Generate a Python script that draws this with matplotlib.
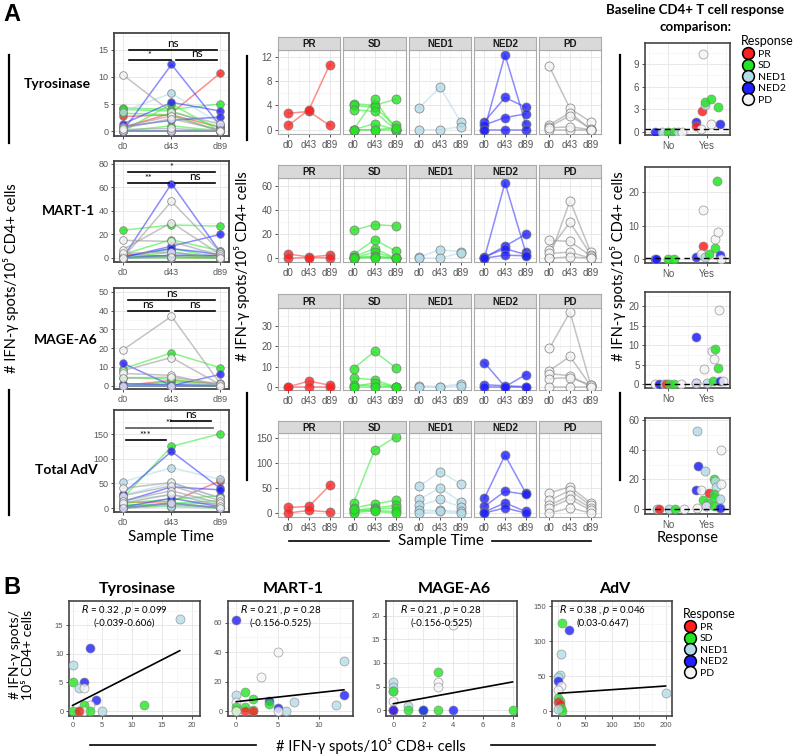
import matplotlib.pyplot as plt
from matplotlib.lines import Line2D
from matplotlib.ticker import MultipleLocator

plt.rcParams['font.family'] = ['Liberation Sans', 'DejaVu Sans']
LATO = ['Lato', 'DejaVu Sans']

times = ['d0', 'd43', 'd89']
groups = ['PR', 'SD', 'NED1', 'NED2', 'PD']
antigens = ['Tyrosinase', 'MART-1', 'MAGE-A6', 'Total AdV']

# one list per patient: spots at d0, d43, d89
tyr_tc = {
    'PR': [[2.7, 3.0, 0.7], [0.7, 3.3, 10.7]],
    'SD': [[4.3, 4.0, 5.0], [4.0, 3.7, 0.7], [3.3, 3.0, 0.0], [0.0, 5.0, 0.0],
           [0.0, 1.0, 0.0], [0.0, 0.0, 0.0], [0.0, 0.0, 0.3]],
    'NED1': [[3.6, 7.0, 1.3], [0.0, 0.0, 0.5]],
    'NED2': [[0.0, 12.3, 1.0], [1.3, 5.3, 3.7], [0.8, 2.0, 2.6], [0.0, 0.0, 0.0]],
    'PD': [[10.4, 3.5, 1.3], [0.8, 2.8, 0.0], [0.5, 2.3, 0.2], [0.0, 0.0, 0.0], [0.3, 0.5, 0.0]],
}
mart_tc = {
    'PR': [[3.5, 1.0, 2.5], [0.0, 0.5, 0.3]],
    'SD': [[23.5, 28.0, 27.0], [3.0, 15.5, 6.0], [1.0, 8.0, 0.0], [0.0, 5.0, 0.0],
           [0.0, 2.0, 0.0], [0.5, 1.0, 0.0], [0.0, 0.0, 0.0]],
    'NED1': [[1.0, 7.0, 5.5], [0.0, 0.0, 4.5]],
    'NED2': [[0.0, 63.0, 5.0], [0.5, 10.0, 20.0], [1.0, 8.0, 3.0], [0.0, 2.5, 2.0]],
    'PD': [[0.0, 48.0, 5.0], [7.0, 30.0, 3.0], [15.0, 14.0, 2.0], [4.0, 5.0, 0.0], [0.0, 1.0, 0.0]],
}
mage_tc = {
    'PR': [[0.0, 2.8, 0.8], [0.0, 0.0, 0.0]],
    'SD': [[9.0, 17.5, 9.5], [4.3, 3.5, 0.0], [1.0, 0.5, 0.0], [0.0, 2.0, 0.0], [0.0, 0.0, 0.0]],
    'NED1': [[0.5, 0.0, 1.5], [0.0, 0.0, 0.5]],
    'NED2': [[12.0, 0.0, 6.0], [1.0, 0.5, 0.0], [0.0, 0.0, 0.0]],
    'PD': [[19.0, 37.0, 1.0], [8.0, 15.0, 0.5], [6.5, 5.5, 0.0], [4.0, 4.5, 1.0], [0.0, 0.0, 0.0]],
}
adv_tc = {
    'PR': [[11.0, 13.0, 55.0], [0.0, 5.0, 2.0]],
    'SD': [[20.0, 125.0, 151.0], [10.0, 18.0, 25.0], [5.0, 10.0, 15.0], [2.0, 8.0, 10.0],
           [0.0, 5.0, 3.0], [7.0, 3.0, 0.0]],
    'NED1': [[53.0, 82.0, 58.0], [27.0, 50.0, 22.0], [15.0, 27.0, 12.0], [5.0, 5.0, 3.0], [0.0, 3.0, 0.0]],
    'NED2': [[29.0, 115.0, 40.0], [13.0, 43.0, 37.0], [2.0, 20.0, 3.0], [0.0, 10.0, 0.0]],
    'PD': [[40.0, 52.0, 20.0], [25.0, 45.0, 15.0], [15.0, 35.0, 10.0], [10.0, 28.0, 5.0], [0.0, 10.0, 0.0]],
}

# significance brackets: (x start, x end, y, label)
tyr_sig = [(0.12, 1.94, 15.0, 'ns'), (0.12, 0.98, 13.1, '*'), (1.1, 1.94, 13.1, 'ns')]
mart_sig = [(0.1, 1.9, 72.8, '*'), (0.1, 0.94, 63.9, '**'), (1.08, 1.9, 63.9, 'ns')]
mage_sig = [(0.1, 1.9, 45.7, 'ns'), (0.1, 0.94, 40.0, 'ns'), (1.08, 1.9, 40.0, 'ns')]
adv_sig = [(1.0, 1.81, 176.5, 'ns'), (0.06, 1.86, 163.0, '**'), (0.06, 0.88, 138.0, '***')]

# baseline response: (response, jitter, spots, group)
tyr_base = [('No', -0.35, 0, 'NED2'), ('No', -0.15, 0, 'NED1'), ('No', 0.0, 0, 'SD'),
            ('No', 0.15, 0, 'SD'), ('No', 0.25, 0, 'NED1'), ('No', 0.35, 0, 'PD'),
            ('Yes', -0.28, 1.3, 'NED2'), ('Yes', -0.27, 0.7, 'PR'), ('Yes', -0.12, 2.7, 'PR'),
            ('Yes', -0.05, 3.6, 'NED1'), ('Yes', -0.05, 4.0, 'SD'), ('Yes', 0.12, 4.3, 'SD'),
            ('Yes', 0.28, 3.3, 'SD'), ('Yes', -0.1, 10.4, 'PD'), ('Yes', -0.15, 0.3, 'PD'),
            ('Yes', 0.12, 1.0, 'PD'), ('Yes', 0.33, 1.0, 'NED2')]
mart_base = [('No', -0.35, 0, 'NED2'), ('No', -0.32, 0, 'NED2'), ('No', 0.0, 0, 'SD'),
             ('No', 0.15, 0, 'SD'),
             ('Yes', -0.28, 0.5, 'NED2'), ('Yes', -0.1, 14.7, 'PD'), ('Yes', -0.1, 3.8, 'PR'),
             ('Yes', -0.15, 1.5, 'PD'), ('Yes', -0.05, 0.5, 'NED1'), ('Yes', 0.05, 1.3, 'SD'),
             ('Yes', 0.2, 3.3, 'SD'), ('Yes', 0.27, 23.5, 'SD'), ('Yes', 0.2, 6.0, 'PD'),
             ('Yes', 0.3, 8.0, 'PD'), ('Yes', 0.33, 1.0, 'NED2'), ('Yes', 0.36, 0.0, 'PD')]
mage_base = [('No', -0.33, 0, 'PD'), ('No', -0.25, 0, 'NED2'), ('No', -0.12, 0, 'NED1'),
             ('No', -0.05, 0, 'PR'), ('No', 0.03, 0, 'SD'), ('No', 0.15, 0, 'SD'), ('No', 0.33, 0, 'PD'),
             ('Yes', -0.28, 12.2, 'NED2'), ('Yes', -0.28, 0.5, 'NED2'), ('Yes', -0.28, 0.5, 'PD'),
             ('Yes', -0.08, 4.0, 'PD'), ('Yes', 0.0, 0.5, 'NED1'), ('Yes', 0.13, 8.5, 'PD'),
             ('Yes', 0.18, 6.5, 'PD'), ('Yes', 0.22, 9.0, 'SD'), ('Yes', 0.28, 4.2, 'SD'),
             ('Yes', 0.15, 1.0, 'SD'), ('Yes', 0.35, 1.0, 'NED2'), ('Yes', 0.32, 19.0, 'PD'),
             ('Yes', 0.41, 1.0, 'PD')]
adv_base = [('No', -0.3, 0, 'NED1'), ('No', -0.23, 0, 'PR'), ('No', 0.03, 0, 'NED1'),
            ('No', 0.18, 0, 'SD'), ('No', 0.4, 0, 'PD'),
            ('Yes', -0.26, 52.5, 'NED1'), ('Yes', -0.23, 29.0, 'NED2'), ('Yes', -0.05, 26.0, 'NED1'),
            ('Yes', -0.28, 13.0, 'NED2'), ('Yes', -0.15, 13.0, 'PD'), ('Yes', 0.06, 11.0, 'PR'),
            ('Yes', -0.1, 6.0, 'SD'), ('Yes', 0.03, 4.0, 'SD'), ('Yes', -0.01, 2.0, 'NED2'),
            ('Yes', -0.01, 2.0, 'PD'), ('Yes', -0.26, 1.0, 'PD'), ('Yes', 0.19, 20.0, 'SD'),
            ('Yes', 0.2, 19.0, 'NED1'), ('Yes', 0.25, 15.0, 'NED1'), ('Yes', 0.19, 10.0, 'SD'),
            ('Yes', 0.19, 7.5, 'SD'), ('Yes', 0.19, 2.0, 'SD'), ('Yes', 0.33, 7.0, 'NED1'),
            ('Yes', 0.37, 17.0, 'PD'), ('Yes', 0.37, 40.0, 'PD'), ('Yes', 0.33, 1.0, 'NED2')]
base_cut = [0.3, 0.2, 0.1, 0.4]

# panel B: CD8 vs CD4 spots
tyr_cd8 = [18, 3, 0, 0, 2, 1, 2, 4, 3, 2, 12, 0, 1, 2, 3, 5, 1]
tyr_cd4 = [16, 11, 8, 5, 5, 4, 4, 2, 1, 1, 1, 0, 0, 0, 0, 0, 0]
tyr_grp = ['NED1', 'NED2', 'NED1', 'SD', 'NED2', 'NED1', 'PD', 'NED2', 'PD', 'SD', 'SD',
           'SD', 'SD', 'PD', 'SD', 'NED1', 'PR']
mart_cd8 = [0, 5, 13, 3, 1, 0, 13, 2, 4, 7, 0, 4, 12, 0, 1, 5, 0, 2, 1, 2, 6, 5, 0]
mart_cd4 = [62, 40, 34, 23, 13, 11, 11, 8, 7, 6, 6, 5, 4, 3, 3, 2, 1, 1, 0, 0, 0, 0, 0]
mart_grp = ['NED2', 'PD', 'NED1', 'PD', 'SD', 'NED1', 'NED2', 'SD', 'NED2', 'NED1', 'PD', 'SD',
            'NED1', 'SD', 'SD', 'NED2', 'SD', 'SD', 'PR', 'PR', 'NED1', 'PD', 'PD']
mage_cd8 = [4, 3, 3, 3, 0, 0, 0, 0, 0, 1, 0, 0, 1, 2, 2, 3, 4, 8]
mage_cd4 = [18, 8, 6, 5, 6, 5, 4, 4, 2, 1, 0, 0, 0, 0, 0, 0, 0, 0]
mage_grp = ['PD', 'SD', 'PD', 'PD', 'NED1', 'NED1', 'NED1', 'SD', 'PD', 'NED1', 'PR', 'NED2',
            'SD', 'SD', 'NED2', 'SD', 'NED2', 'SD']
adv_cd8 = [6, 20, 4, 2, 0, 0, 4, 0, 0, 2, 0, 2, 200, 4, 6, 0]
adv_cd4 = [126, 116, 82, 52, 49, 43, 36, 30, 19, 15, 13, 10, 26, 5, 0, 3]
adv_grp = ['SD', 'NED2', 'NED1', 'NED1', 'NED1', 'NED2', 'PD', 'PD', 'SD', 'SD', 'PR', 'PR',
           'NED1', 'SD', 'SD', 'NED1']
# fitted line (intercept, slope) and stats text
b_fit = [(1.0, 0.53), (6.4, 0.62), (1.4, 0.575), (25.6, 0.052)]
b_stats = [('0.32', '0.099', '(-0.039-0.606)'), ('0.21', '0.28', '(-0.156-0.525)'),
           ('0.21', '0.28', '(-0.156-0.525)'), ('0.38', '0.046', '(0.03-0.647)')]
b_titles = ['Tyrosinase', 'MART-1', 'MAGE-A6', 'AdV']

fill = {'PR': '#ff1f1f', 'SD': '#22e622', 'NED1': '#b4dbe8', 'NED2': '#1f1fff', 'PD': '#f4f4f4'}
linec = {'PR': '#ff4040', 'SD': '#3ded3d', 'NED1': '#b4dbe8', 'NED2': '#4040ff', 'PD': '#9c9c9c'}

W, H = 798, 755
fig = plt.figure(figsize=(W / 100, H / 100), dpi=100)


def box(x0, y0, x1, y1):
    return fig.add_axes([x0 / W, 1 - y1 / H, (x1 - x0) / W, (y1 - y0) / H])


def ftext(x, y, s, **kw):
    fig.text(x / W, 1 - y / H, s, **kw)


def fline(x0, y0, x1, y1, lw=1.6):
    fig.add_artist(Line2D([x0 / W, x1 / W], [1 - y0 / H, 1 - y1 / H], color='black', lw=lw))


def gg(ax, ystep, edge='#333333', elw=1.0, fs=7):
    for s in ax.spines.values():
        s.set_color(edge)
        s.set_linewidth(elw)
    ax.yaxis.set_major_locator(MultipleLocator(ystep))
    ax.yaxis.set_minor_locator(MultipleLocator(ystep / 2))
    ax.grid(True, which='major', color='#e4e4e4', lw=0.6)
    ax.grid(True, which='minor', color='#f2f2f2', lw=0.4)
    ax.set_axisbelow(True)
    ax.tick_params(which='major', length=2.5, width=0.6, color='#333333',
                   labelsize=fs, labelcolor='#555555', pad=1.5)
    ax.tick_params(which='minor', length=0)


def traj(ax, vals, g, ms):
    ax.plot([0, 1, 2], vals, color=linec[g], lw=1.1, alpha=0.6, zorder=2)
    ax.plot([0, 1, 2], vals, 'o', ms=ms, mfc=fill[g], mec='#777777', mew=0.6, alpha=0.8, zorder=3)


def legend_at(x, y):
    handles = [Line2D([], [], ls='none', marker='o', ms=8.5, mfc=fill[g], mec='black', mew=1.1)
               for g in groups]
    leg = fig.legend(handles, groups, title='Response', loc='upper left',
                     bbox_to_anchor=(x / W, 1 - y / H), frameon=False, handlelength=1.3,
                     handletextpad=0.3, labelspacing=0.22, borderpad=0, borderaxespad=0,
                     title_fontsize=9, prop={'family': LATO, 'size': 7.5})
    leg.get_title().set_family(LATO)
    leg._legend_box.align = 'left'


tc_data = [tyr_tc, mart_tc, mage_tc, adv_tc]
sig_data = [tyr_sig, mart_sig, mage_sig, adv_sig]
base_data = [tyr_base, mart_base, mage_base, adv_base]

# ---- A: left combined panels
left_rows = [(33, 136), (161, 262), (288, 389), (410, 512)]
left_ylim = [(-0.9, 18.1), (-3.4, 82.2), (-1.8, 52.1), (-8, 199)]
left_step = [5, 20, 10, 50]
label_pos = [(57, 84), (68, 211), (66, 340), (66, 470)]
for i in range(4):
    ax = box(114, left_rows[i][0], 229, left_rows[i][1])
    gg(ax, left_step[i], edge='#444444', elw=1.3, fs=6.5)
    for g in groups:
        for tr in tc_data[i][g]:
            traj(ax, tr, g, 5.5)
    rng = left_ylim[i][1] - left_ylim[i][0]
    for x0, x1, y, lab in sig_data[i]:
        col = '#555555' if lab == '**' and i == 3 else 'black'
        ax.plot([x0, x1], [y, y], color=col, lw=1.2, zorder=4)
        if lab == 'ns':
            ax.text((x0 + x1) / 2, y + 0.01 * rng, lab, ha='center', va='bottom',
                    fontsize=8.5, family=LATO)
        else:
            ax.text((x0 + x1) / 2, y + 0.045 * rng, lab, ha='center', va='center',
                    fontsize=6.5, family=LATO)
    ax.set_xlim(-0.18, 2.18)
    ax.set_ylim(*left_ylim[i])
    ax.set_xticks([0, 1, 2], times)
    ax.xaxis.set_minor_locator(MultipleLocator(0.5))
    ftext(label_pos[i][0], label_pos[i][1], antigens[i], ha='center', va='center',
          fontsize=10, fontweight='bold', family=LATO)

# ---- A: faceted panels
mid_cols = [(278, 340), (343, 406), (409, 471), (474, 536), (539, 601)]
mid_rows = [(37, 50, 134), (165, 178, 262), (294, 308, 390), (421, 433, 517)]
mid_ylim = [(-0.7, 13.1), (-3.2, 67), (-1.6, 39), (-8, 159)]
mid_step = [4, 20, 10, 50]
for i in range(4):
    st, top, bot = mid_rows[i]
    for j, g in enumerate(groups):
        x0, x1 = mid_cols[j]
        ax = box(x0, top, x1, bot)
        gg(ax, mid_step[i], edge='#aaaaaa', elw=0.8, fs=7)
        for tr in tc_data[i][g]:
            traj(ax, tr, g, 6.5)
        ax.set_xlim(-0.5, 2.5)
        ax.set_ylim(*mid_ylim[i])
        ax.set_xticks([0, 1, 2], times)
        ax.xaxis.set_minor_locator(MultipleLocator(0.5))
        if j > 0:
            ax.tick_params(axis='y', left=False, labelleft=False)
        sx = box(x0, st, x1, top)
        sx.set_facecolor('#d9d9d9')
        sx.set_xticks([])
        sx.set_yticks([])
        for s in sx.spines.values():
            s.set_color('#aaaaaa')
            s.set_linewidth(0.8)
        sx.text(0.5, 0.45, g, ha='center', va='center', fontsize=7, fontweight='bold',
                color='#1a1a1a', transform=sx.transAxes)

# ---- A: baseline comparison panels
right_rows = [(43, 135), (167, 263), (292, 388), (418, 514)]
right_ylim = [(-0.45, 11.8), (-1.3, 27.7), (-0.9, 23.6), (-3.2, 61.3)]
right_step = [3, 10, 5, 20]
for i in range(4):
    ax = box(645, right_rows[i][0], 730, right_rows[i][1])
    gg(ax, right_step[i], edge='#444444', elw=1.2, fs=7)
    for resp, jit, val, g in base_data[i]:
        ax.plot(['No', 'Yes'].index(resp) + jit, val, 'o', ms=6.5, mfc=fill[g],
                mec='#888888', mew=0.5, alpha=0.85, zorder=3)
    ax.axhline(base_cut[i], color='black', ls=(0, (4, 3)), lw=1.0, zorder=4)
    ax.set_xlim(-0.6, 1.6)
    ax.set_ylim(*right_ylim[i])
    ax.set_xticks([0, 1], ['No', 'Yes'])
    ax.xaxis.set_minor_locator(MultipleLocator(0.5))

legend_at(741, 35)

ftext(695, 4, 'Baseline CD4+ T cell response\ncomparison:', ha='center', va='top',
      fontsize=9.5, fontweight='bold', family=LATO, linespacing=1.5)
ftext(3, 3, 'A', ha='left', va='top', fontsize=17, fontweight='bold')

ylab = '# IFN-γ spots/10⁵ CD4+ cells'
ftext(11, 278, ylab, rotation=90, ha='center', va='center', fontsize=10.5, family=LATO)
ftext(242, 266, ylab, rotation=90, ha='center', va='center', fontsize=10.5, family=LATO)
ftext(618, 266, ylab, rotation=90, ha='center', va='center', fontsize=10.5, family=LATO)
fline(9, 55, 9, 143)
fline(9, 390, 9, 515)
fline(247, 56, 247, 140)
fline(247, 393, 247, 480)
fline(620, 55, 620, 143)
fline(620, 393, 620, 480)

ftext(171, 537, 'Sample Time', ha='center', va='center', fontsize=11, family=LATO)
ftext(441, 541, 'Sample Time', ha='center', va='center', fontsize=11, family=LATO)
fline(289, 541, 389, 541, lw=1.2)
fline(492, 541, 591, 541, lw=1.2)
ftext(688, 538, 'Response', ha='center', va='center', fontsize=10.5, family=LATO)

# ---- B: correlation panels
b_cols = [(69, 200), (228, 353), (386, 517), (552, 672)]
b_xlim = [(-0.6, 21.4), (-1.0, 14.1), (-0.5, 8.3), (-12, 212)]
b_ylim = [(-0.84, 19.2), (-3.3, 74.6), (-1.2, 23.1), (-6.9, 157.7)]
b_xstep = [5, 5, 2, 50]
b_ystep = [5, 20, 5, 50]
b_x = [tyr_cd8, mart_cd8, mage_cd8, adv_cd8]
b_y = [tyr_cd4, mart_cd4, mage_cd4, adv_cd4]
b_g = [tyr_grp, mart_grp, mage_grp, adv_grp]
for i in range(4):
    ax = box(b_cols[i][0], 601, b_cols[i][1], 716)
    gg(ax, b_ystep[i], edge='#444444', elw=1.2, fs=5.5)
    ax.xaxis.set_major_locator(MultipleLocator(b_xstep[i]))
    ax.xaxis.set_minor_locator(MultipleLocator(b_xstep[i] / 2))
    for xv, yv, g in zip(b_x[i], b_y[i], b_g[i]):
        ax.plot(xv, yv, 'o', ms=6.5, mfc=fill[g], mec='#888888', mew=0.5, alpha=0.8, zorder=3)
    b0, b1 = b_fit[i]
    xe = max(b_x[i])
    ax.plot([0, xe], [b0, b0 + b1 * xe], color='black', lw=1.2, zorder=4)
    r, p, ci = b_stats[i]
    ax.text(0.42, 0.985, '$\\it{R}$ = ' + r + ' , $\\it{p}$ = ' + p + '\n' + ci,
            transform=ax.transAxes, ha='center', va='top', fontsize=7, family=LATO,
            multialignment='center', linespacing=1.3)
    ax.set_xlim(*b_xlim[i])
    ax.set_ylim(*b_ylim[i])
    ftext((b_cols[i][0] + b_cols[i][1]) / 2 + 3, 589, b_titles[i], ha='center', va='center',
          fontsize=11.5, fontweight='bold', family=LATO)

legend_at(683, 608)

ftext(3, 588, 'B', ha='left', va='center', fontsize=17, fontweight='bold')
ftext(22, 655, '# IFN-γ spots/\n10⁵ CD4+ cells', rotation=90, ha='center', va='center',
      fontsize=10, family=LATO, linespacing=1.1)
ftext(371, 746, '# IFN-γ spots/10⁵ CD8+ cells', ha='center', va='center', fontsize=10.5, family=LATO)
fline(90, 745, 256, 745, lw=1.2)
fline(491, 745, 655, 745, lw=1.2)

fig.savefig('out.png', dpi=100)
